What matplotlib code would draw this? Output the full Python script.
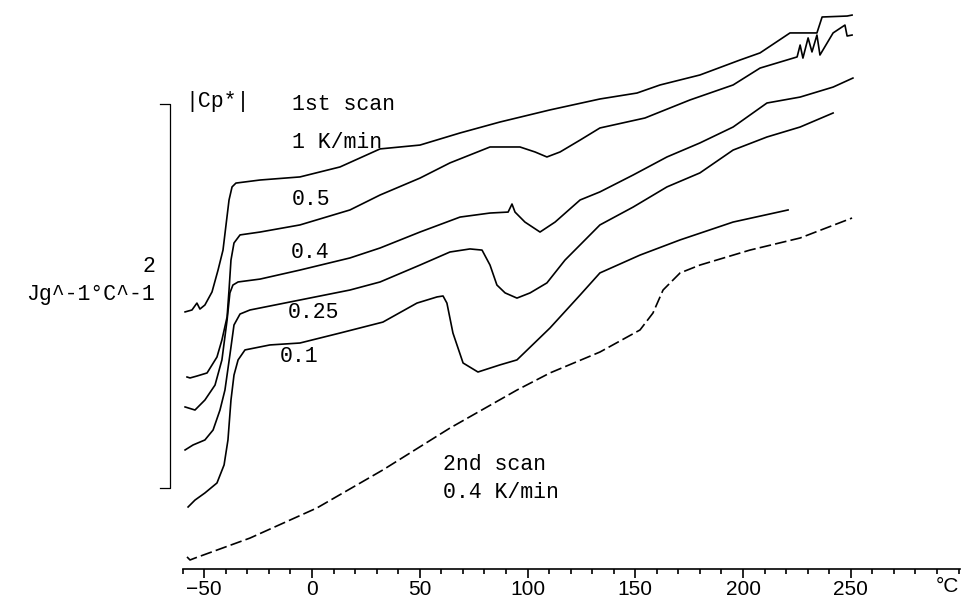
# heat capacity |Cp*| curves, 1st scan at several rates + 2nd scan
import matplotlib
matplotlib.use('Agg')
import matplotlib.pyplot as plt
import numpy as np

# --- data (temperature in degC, |Cp*| in J/g/degC, curves shifted) ---
t_1K = [-58.9, -55.7, -53.4, -52.0, -49.7, -46.4, -43.6, -41.3, -39.9, -38.5, -37.1, -35.3,
        -24.1, -5.6, 13.0, 31.6, 50.1, 68.7, 87.2, 110.4, 133.6, 150.8, 161.5, 180.0,
        198.6, 207.9, 221.8, 234.3, 236.7, 248.3, 250.6]
cp_1K = [1.339, 1.349, 1.385, 1.354, 1.375, 1.443, 1.557, 1.661, 1.792, 1.922, 1.990, 2.010,
         2.026, 2.042, 2.094, 2.188, 2.208, 2.271, 2.328, 2.391, 2.448, 2.479, 2.521, 2.573,
         2.651, 2.688, 2.792, 2.792, 2.875, 2.880, 2.885]

t_05 = [-58.0, -56.6, -53.4, -48.7, -44.1, -41.8, -39.4, -38.5, -37.6, -36.2, -33.4, -24.1,
        -5.6, 17.6, 31.6, 50.1, 64.0, 82.6, 96.5, 103.5, 109.0, 115.1, 124.4, 133.6, 154.5,
        175.4, 195.4, 207.9, 225.1, 226.5, 227.8, 230.2, 232.0, 234.3, 235.7, 241.8, 247.3,
        248.3, 250.6]
cp_05 = [1.000, 0.995, 1.005, 1.021, 1.104, 1.193, 1.313, 1.453, 1.609, 1.698, 1.740, 1.755,
         1.792, 1.870, 1.948, 2.036, 2.115, 2.198, 2.198, 2.172, 2.146, 2.172, 2.234, 2.297,
         2.349, 2.443, 2.521, 2.609, 2.667, 2.729, 2.661, 2.766, 2.693, 2.781, 2.677, 2.792,
         2.833, 2.776, 2.781]

t_04 = [-58.9, -54.3, -49.7, -45.0, -41.8, -39.4, -38.1, -36.7, -34.3, -24.1, -5.6, 17.6,
        31.6, 50.1, 68.7, 82.6, 91.0, 92.8, 94.2, 98.8, 105.8, 112.8, 124.4, 133.6, 149.0,
        164.7, 180.0, 195.4, 211.1, 226.5, 241.8, 251.0]
cp_04 = [0.844, 0.828, 0.880, 0.958, 1.089, 1.297, 1.438, 1.479, 1.495, 1.510, 1.557, 1.620,
         1.672, 1.755, 1.833, 1.854, 1.859, 1.901, 1.859, 1.807, 1.755, 1.807, 1.922, 1.964,
         2.052, 2.146, 2.219, 2.302, 2.427, 2.458, 2.510, 2.557]

t_025 = [-58.9, -55.2, -49.7, -45.9, -42.7, -40.4, -38.1, -36.2, -33.4, -28.8, -5.6, 17.6,
         31.6, 50.1, 64.0, 73.3, 78.9, 82.6, 85.8, 89.6, 95.1, 101.2, 109.0, 117.4, 124.4,
         133.6, 149.0, 164.7, 180.0, 195.4, 211.1, 226.5, 241.8]
cp_025 = [0.620, 0.646, 0.672, 0.724, 0.828, 0.932, 1.115, 1.271, 1.328, 1.349, 1.401, 1.453,
          1.495, 1.583, 1.651, 1.667, 1.661, 1.583, 1.479, 1.438, 1.411, 1.438, 1.490, 1.609,
          1.688, 1.792, 1.885, 1.990, 2.063, 2.182, 2.250, 2.302, 2.375]

t_01 = [-57.5, -54.3, -49.7, -44.1, -40.8, -39.0, -37.6, -36.2, -34.3, -31.1, -19.5, -5.6,
        13.0, 32.9, 48.7, 58.0, 60.8, 62.6, 65.4, 70.1, 77.0, 87.2, 95.1, 110.4, 124.4,
        133.6, 152.2, 170.8, 195.4, 220.9]
cp_01 = [0.323, 0.359, 0.396, 0.448, 0.542, 0.672, 0.880, 1.010, 1.089, 1.141, 1.167, 1.177,
         1.229, 1.286, 1.385, 1.417, 1.422, 1.385, 1.229, 1.073, 1.026, 1.063, 1.089, 1.255,
         1.427, 1.542, 1.635, 1.714, 1.807, 1.870]

t_2nd = [-58.0, -56.6, -54.3, -28.8, 2.3, 32.9, 64.0, 95.1, 110.4, 133.6, 152.2, 158.2,
         162.9, 170.8, 180.0, 203.2, 226.5, 250.6]
cp_2nd = [0.063, 0.047, 0.057, 0.161, 0.318, 0.516, 0.734, 0.932, 1.021, 1.130, 1.245, 1.333,
          1.453, 1.542, 1.583, 1.661, 1.724, 1.828]

xticks = [-50, 0, 50, 100, 150, 200, 250]
scale_value = 2      # J g^-1 C^-1
scale_low = 0.422

W, H = 961, 605
fig = plt.figure(figsize=(W / 100, H / 100), dpi=100)
ax = fig.add_axes([182.7 / W, 36 / H, (959.6 - 182.7) / W, 569 / H])
ax.set_xlim(-60, 300.5)
ax.set_ylim(0, 569 / 192)

for t, cp in [(t_1K, cp_1K), (t_05, cp_05), (t_04, cp_04), (t_025, cp_025), (t_01, cp_01)]:
    ax.plot(t, cp, color='black', lw=1.2)
ax.plot(t_2nd, cp_2nd, color='black', lw=1.2, linestyle=(0, (7, 2.5)))

# axis look
for s in ['top', 'left', 'right']:
    ax.spines[s].set_visible(False)
ax.spines['bottom'].set_linewidth(1.2)
ax.set_yticks([])
ax.set_xticks(xticks)
ax.set_xticks(np.arange(-60, 301, 10), minor=True)
ax.tick_params(axis='x', which='major', direction='out', length=6.5, width=1.2,
               pad=1.5, labelsize=15)
ax.tick_params(axis='x', which='minor', direction='out', length=3.6, width=1.2)
ax.set_xticklabels([str(v).replace('-', '\u2212') for v in xticks],
                   fontfamily='Liberation Sans')

# scale bar on the left
bar_t = -65.9
ax.plot([-70.5, bar_t, bar_t, -70.5],
        [scale_low + scale_value, scale_low + scale_value, scale_low, scale_low],
        color='black', lw=0.9, clip_on=False)

mono = dict(family='Liberation Mono', fontsize=15.5, color='black')


def put(x, y, s, ha='left'):
    fig.text(x / W, 1 - y / H, s, ha=ha, va='center', **mono)


put(185, 101, '|Cp*|')
put(292, 105, '1st scan')
put(292, 142, '1 K/min')
put(292, 199, '0.5')
put(291, 252, '0.4')
put(288, 313, '0.25')
put(280, 356, '0.1')
put(443, 464, '2nd scan')
put(443, 493, '0.4 K/min')
put(155, 266, '2', ha='right')
put(155, 295, 'Jg^-1\u00b0C^-1', ha='right')

fig.text(959 / W, 1 - 587 / H, '\u00b0C', ha='right', va='center',
         family='Liberation Sans', fontsize=15)

fig.savefig('out.png', dpi=100)
